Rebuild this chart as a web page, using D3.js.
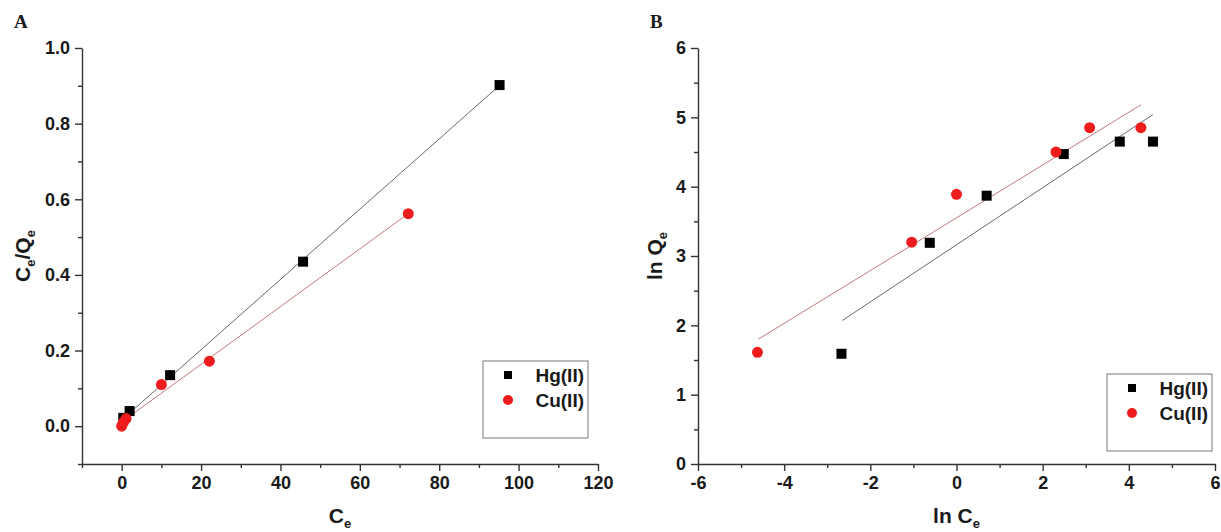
<!DOCTYPE html>
<html>
<head>
<meta charset="utf-8">
<script src="https://cdn.jsdelivr.net/npm/d3@7"></script>
<style>
  body { margin: 0; background: #fff; }
  svg text { font-family: "Liberation Sans", Arial, sans-serif; font-weight: bold; fill: #1a1a1a; }
</style>
</head>
<body>
<div id="chart"></div>
<script>
// panel A: Langmuir plot (Ce/Qe vs Ce)
var hgCe = [0.4, 2.0, 12.2, 45.7, 95.2];
var hgCeQe = [0.022, 0.04, 0.135, 0.435, 0.902];
var cuCe = [0.0, 0.4, 1.1, 10.0, 22.1, 72.2];
var cuCeQe = [0.0, 0.01, 0.02, 0.11, 0.172, 0.562];
// fitted lines (start, end)
var hgFitAX = [0.4, 95.2], hgFitAY = [0.020, 0.901];
var cuFitAX = [0.0, 72.2], cuFitAY = [0.011, 0.562];

// panel B: Freundlich plot (ln Qe vs ln Ce)
var hgLnCe = [-2.67, -0.62, 0.70, 2.49, 3.79, 4.56];
var hgLnQe = [1.59, 3.19, 3.87, 4.47, 4.65, 4.65];
var cuLnCe = [-4.62, -1.04, 0.0, 2.31, 3.09, 4.28];
var cuLnQe = [1.61, 3.20, 3.89, 4.50, 4.85, 4.85];
var hgFitBX = [-2.65, 4.56], hgFitBY = [2.07, 5.04];
var cuFitBX = [-4.60, 4.28], cuFitBY = [1.80, 5.18];

var seriesNames = ["Hg(II)", "Cu(II)"];

var aXTicks = [0, 20, 40, 60, 80, 100, 120];
var aXMinor = [-10, 10, 30, 50, 70, 90, 110];
var aYTicks = [0.0, 0.2, 0.4, 0.6, 0.8, 1.0];
var aYMinor = [-0.1, 0.1, 0.3, 0.5, 0.7, 0.9];
var bXTicks = [-6, -4, -2, 0, 2, 4, 6];
var bXMinor = [-5, -3, -1, 1, 3, 5];
var bYTicks = [0, 1, 2, 3, 4, 5, 6];
var bYMinor = [0.5, 1.5, 2.5, 3.5, 4.5, 5.5];

var W = 1221, H = 532;
var svg = d3.select("#chart").append("svg").attr("width", W).attr("height", H);

function zip(xs, ys) {
  return xs.map(function(v, i) { return [v, ys[i]]; });
}

// plain hyphen for negatives, like the original figure
function hyphen(f) {
  return function(d) { return f(d).replace("\u2212", "-"); };
}

function panel(opt) {
  var x = d3.scaleLinear().domain(opt.xDomain).range([opt.left, opt.right]);
  var y = d3.scaleLinear().domain(opt.yDomain).range([opt.bottom, opt.top]);
  var g = svg.append("g");

  // minor ticks
  g.append("g")
    .attr("transform", "translate(0," + opt.bottom + ")")
    .call(d3.axisBottom(x).tickValues(opt.xMinor).tickSize(4).tickFormat(""))
    .call(function(s) { s.select(".domain").remove(); });
  g.append("g")
    .attr("transform", "translate(" + opt.left + ",0)")
    .call(d3.axisLeft(y).tickValues(opt.yMinor).tickSize(4).tickFormat(""))
    .call(function(s) { s.select(".domain").remove(); });

  // major axes
  g.append("g")
    .attr("transform", "translate(0," + opt.bottom + ")")
    .call(d3.axisBottom(x).tickValues(opt.xTicks).tickSize(7).tickSizeOuter(0).tickPadding(5).tickFormat(hyphen(opt.xFmt)));
  g.append("g")
    .attr("transform", "translate(" + opt.left + ",0)")
    .call(d3.axisLeft(y).tickValues(opt.yTicks).tickSize(7).tickSizeOuter(0).tickPadding(5).tickFormat(hyphen(opt.yFmt)));
  g.selectAll(".tick line, .domain").attr("stroke", "#333").attr("stroke-width", 1.4);
  g.selectAll(".tick text").style("font-size", "18px").attr("fill", "#1a1a1a");

  // fit lines
  var line = d3.line().x(function(d) { return x(d[0]); }).y(function(d) { return y(d[1]); });
  g.append("path").datum(zip(opt.hgFitX, opt.hgFitY))
    .attr("d", line).attr("fill", "none").attr("stroke", "#6a6a6a").attr("stroke-width", 1);
  g.append("path").datum(zip(opt.cuFitX, opt.cuFitY))
    .attr("d", line).attr("fill", "none").attr("stroke", "#c47a7a").attr("stroke-width", 1);

  // points
  g.selectAll(".hg").data(zip(opt.hgX, opt.hgY)).enter().append("rect")
    .attr("x", function(d) { return x(d[0]) - 5; })
    .attr("y", function(d) { return y(d[1]) - 5; })
    .attr("width", 10).attr("height", 10).attr("fill", "#000");
  g.selectAll(".cu").data(zip(opt.cuX, opt.cuY)).enter().append("circle")
    .attr("cx", function(d) { return x(d[0]); })
    .attr("cy", function(d) { return y(d[1]); })
    .attr("r", 5.5).attr("fill", "#ee1c1c");

  // panel letter
  svg.append("text").attr("x", opt.letterX).attr("y", 28)
    .style("font-family", "'Liberation Serif', 'Times New Roman', serif")
    .style("font-size", "19px").text(opt.letter);

  // axis titles
  var xt = svg.append("text").attr("x", (opt.left + opt.right) / 2).attr("y", 523)
    .attr("text-anchor", "middle").style("font-size", "21px");
  xt.append("tspan").text(opt.xTitle);
  xt.append("tspan").attr("dy", 5).style("font-size", "13px").text("e");

  var yt = svg.append("text")
    .attr("transform", "translate(" + opt.yTitleX + "," + ((opt.top + opt.bottom) / 2) + ") rotate(-90)")
    .attr("text-anchor", "middle").style("font-size", "21px");
  opt.yTitle.forEach(function(p) {
    var t = yt.append("tspan").text(p[0]);
    if (p[1]) t.attr("dy", 5).style("font-size", "13px");
    else if (p[2]) t.attr("dy", -5);
  });

  // legend
  var lg = svg.append("g").attr("transform", "translate(" + opt.legX + "," + opt.legY + ")");
  lg.append("rect").attr("width", 105).attr("height", 77)
    .attr("fill", "#fff").attr("stroke", "#777").attr("stroke-width", 1);
  lg.append("rect").attr("x", 21).attr("y", 10).attr("width", 8).attr("height", 8).attr("fill", "#000");
  lg.append("circle").attr("cx", 25).attr("cy", 39).attr("r", 5).attr("fill", "#ee1c1c");
  lg.selectAll(".lt").data(seriesNames).enter().append("text")
    .attr("x", 101).attr("y", function(d, i) { return 21 + i * 25; })
    .attr("text-anchor", "end").style("font-size", "19px").text(function(d) { return d; });
}

panel({
  left: 82, right: 598, top: 48, bottom: 464,
  xDomain: [-10, 120], yDomain: [-0.1, 1.0],
  xTicks: aXTicks, xMinor: aXMinor, yTicks: aYTicks, yMinor: aYMinor,
  xFmt: d3.format("d"), yFmt: d3.format(".1f"),
  hgX: hgCe, hgY: hgCeQe, cuX: cuCe, cuY: cuCeQe,
  hgFitX: hgFitAX, hgFitY: hgFitAY, cuFitX: cuFitAX, cuFitY: cuFitAY,
  letter: "A", letterX: 14,
  xTitle: "C", yTitleX: 30,
  yTitle: [["C", false], ["e", true], ["/Q", false, true], ["e", true]],
  legX: 483, legY: 361
});

panel({
  left: 698, right: 1215, top: 48, bottom: 464,
  xDomain: [-6, 6], yDomain: [0, 6],
  xTicks: bXTicks, xMinor: bXMinor, yTicks: bYTicks, yMinor: bYMinor,
  xFmt: d3.format("d"), yFmt: d3.format("d"),
  hgX: hgLnCe, hgY: hgLnQe, cuX: cuLnCe, cuY: cuLnQe,
  hgFitX: hgFitBX, hgFitY: hgFitBY, cuFitX: cuFitBX, cuFitY: cuFitBY,
  letter: "B", letterX: 650,
  xTitle: "ln C", yTitleX: 662,
  yTitle: [["ln Q", false], ["e", true]],
  legX: 1107, legY: 374
});
</script>
</body>
</html>
